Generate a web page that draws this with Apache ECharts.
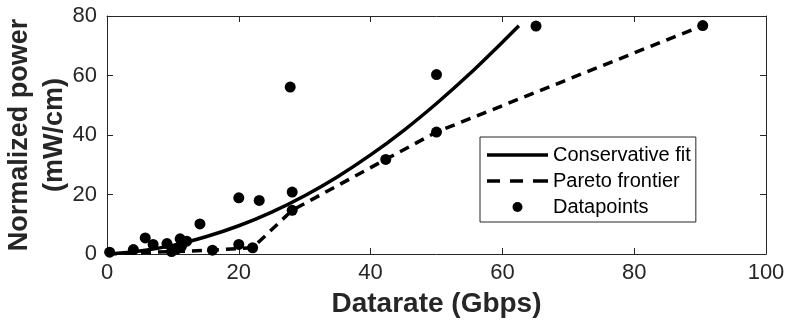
<!DOCTYPE html>
<html>
<head>
<meta charset="utf-8">
<script src="https://cdn.jsdelivr.net/npm/echarts@6/dist/echarts.min.js"></script>
<style>
  html, body { margin: 0; padding: 0; background: #fff; }
  #chart { width: 788px; height: 330px; }
</style>
</head>
<body>
<div id="chart"></div>
<script>
// conservative fit
const fitX = [0, 5, 10, 15, 20, 25, 30, 35, 40, 45, 50, 55, 60, 62.5];
const fitY = [0, 1.0, 2.9, 5.8, 9.5, 14.1, 19.6, 26, 33.3, 41.5, 50.6, 60.5, 71.2, 76.7];

// pareto frontier
const paretoX = [0, 9.8, 16, 22.1, 28.1, 42.3, 50, 90.4];
const paretoY = [0, 0.8, 1.3, 2.1, 14.7, 31.8, 41, 76.8];

// measured datapoints
const pointsX = [0.4, 4.0, 5.8, 7.0, 9.1, 9.8, 10.6, 11.1, 11.3, 12.1, 14.1, 16, 20, 20, 22.1, 23.1, 27.8, 28.1, 28.1, 42.3, 50, 50, 65.1, 90.4];
const pointsY = [0.6, 1.5, 5.4, 3.2, 3.5, 0.8, 1.7, 5.1, 2.6, 4.3, 10.1, 1.3, 18.9, 3.2, 2.1, 18, 56.1, 20.8, 14.7, 31.8, 60.3, 41, 76.6, 76.8];

const xTicks = { min: 0, max: 100, interval: 20 };
const yTicks = { min: 0, max: 80, interval: 20 };

const font = 'Liberation Sans, Helvetica, Arial, sans-serif';
const axisColor = '#262626';

const zip = (xs, ys) => xs.map((x, i) => [x, ys[i]]);

const chart = echarts.init(document.getElementById('chart'));

const baseAxis = (t) => ({
    type: 'value',
    min: t.min,
    max: t.max,
    interval: t.interval,
    splitLine: { show: false },
    axisLine: { show: true, onZero: false, lineStyle: { color: axisColor, width: 1 } },
    axisTick: { show: true, inside: true, length: 6, lineStyle: { color: axisColor } }
});

const option = {
    animation: false,
    backgroundColor: '#fff',
    grid: { left: 107, right: 22, top: 16, bottom: 76, containLabel: false, outerBoundsMode: 'none' },
    legend: {
        orient: 'vertical',
        left: 480,
        top: 137,
        itemWidth: 61,
        itemHeight: 10,
        itemGap: 6,
        padding: [8, 5, 5, 7],
        borderColor: axisColor,
        borderWidth: 1,
        backgroundColor: '#fff',
        textStyle: { fontFamily: font, fontSize: 20, color: '#000', lineHeight: 20 },
        data: [
            { name: 'Conservative fit', icon: 'path://M0,0h61v3.5h-61z' },
            { name: 'Pareto frontier', icon: 'path://M0,0h13v3.5h-13z M23,0h13v3.5h-13z M46,0h15v3.5h-15z' },
            { name: 'Datapoints', icon: 'circle' }
        ]
    },
    xAxis: [
        Object.assign(baseAxis(xTicks), {
            position: 'bottom',
            name: 'Datarate (Gbps)',
            nameLocation: 'middle',
            nameGap: 36,
            nameMoveOverlap: false,
            nameTextStyle: { fontFamily: font, fontSize: 28, fontWeight: 'bold', color: axisColor },
            axisLabel: { fontFamily: font, fontSize: 22, color: axisColor, margin: 8 }
        }),
        Object.assign(baseAxis(xTicks), {
            position: 'top',
            axisLabel: { show: false }
        })
    ],
    yAxis: [
        Object.assign(baseAxis(yTicks), {
            position: 'left',
            name: 'Normalized power\n(mW/cm)',
            nameLocation: 'middle',
            nameGap: 35,
            nameMoveOverlap: false,
            nameTextStyle: { fontFamily: font, fontSize: 27, fontWeight: 'bold', color: axisColor, lineHeight: 35, align: 'center' },
            axisLabel: { fontFamily: font, fontSize: 22, color: axisColor, margin: 10 }
        }),
        Object.assign(baseAxis(yTicks), {
            position: 'right',
            axisLabel: { show: false }
        })
    ],
    series: [
        {
            name: 'Conservative fit',
            type: 'line',
            smooth: 0.3,
            symbol: 'none',
            data: zip(fitX, fitY),
            lineStyle: { color: '#000', width: 3.5 },
            itemStyle: { color: '#000' },
            z: 2
        },
        {
            name: 'Pareto frontier',
            type: 'line',
            symbol: 'none',
            data: zip(paretoX, paretoY),
            lineStyle: { color: '#000', width: 3.5, type: [10, 7] },
            itemStyle: { color: '#000' },
            z: 2
        },
        {
            name: 'Datapoints',
            type: 'scatter',
            symbol: 'circle',
            symbolSize: 11,
            data: zip(pointsX, pointsY),
            itemStyle: { color: '#000', opacity: 1 },
            z: 3
        }
    ]
};

chart.setOption(option);
</script>
</body>
</html>
